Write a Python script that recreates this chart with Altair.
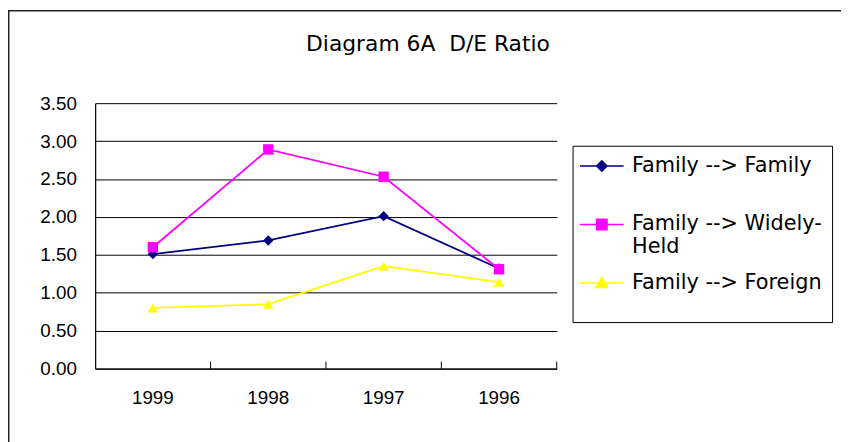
import altair as alt
import pandas as pd

years = ["1999", "1998", "1997", "1996"]
series_names = ["Family --> Family", "Family --> Widely-Held", "Family --> Foreign"]
fam_fam = [1.51, 1.69, 2.01, 1.32]
fam_wide = [1.60, 2.89, 2.53, 1.31]
fam_foreign = [0.80, 0.85, 1.35, 1.14]
colors = ["#000080", "#FF00FF", "#FFFF00"]
shapes = ["diamond", "square", "triangle-up"]
legend_paths = [
    "M-4,0H4M0,-0.95L0.95,0L0,0.95L-0.95,0Z",
    "M-4,0H4M-0.95,-0.95H0.95V0.95H-0.95Z",
    "M-4,0H4M0,-1L1.05,0.85H-1.05Z",
]

rows = []
for name, vals in zip(series_names, [fam_fam, fam_wide, fam_foreign]):
    for y, v in zip(years, vals):
        rows.append({"year": y, "value": v, "series": name})
df = pd.DataFrame(rows)
ticks_df = pd.DataFrame({"year": years})

FONT = "Liberation Sans"
WIDE = "DejaVu Sans"
LABEL_EXPR = "datum.label == 'Family --> Widely-Held' ? ['Family --> Widely-', 'Held'] : datum.label"

x_enc = alt.X(
    "year:N",
    sort=years,
    scale=alt.Scale(type="band", paddingInner=0, paddingOuter=0),
    axis=alt.Axis(
        title=None, labelAngle=0, ticks=False, grid=False, domainColor="black",
        labelFontSize=19, labelFont="Liberation Sans Narrow, Liberation Sans",
        labelColor="black", labelPadding=20, domainWidth=1.2,
    ),
    bandPosition=0.5,
)
y_enc = alt.Y(
    "value:Q",
    scale=alt.Scale(domain=[0, 3.5], nice=False),
    axis=alt.Axis(
        title=None, values=[0, 0.5, 1, 1.5, 2, 2.5, 3, 3.5], format=".2f",
        grid=True, gridColor="black", gridWidth=1, ticks=False,
        domainColor="black", labelFontSize=19, labelFont=FONT,
        labelColor="black", labelPadding=19, domainWidth=1.2,
    ),
)

layers = []

# outer chart frame (decoration)
frame = alt.Chart(ticks_df.head(1)).mark_rect(fill=None, stroke="#222222", strokeWidth=1.5).encode(
    x=alt.value(-87.25), y=alt.value(-93.25), x2=alt.value(760), y2=alt.value(360),
)
layers.append(frame)

for name, c in zip(series_names, colors):
    layers.append(
        alt.Chart(df).transform_filter(alt.datum.series == name)
        .mark_line(strokeWidth=1.8, color=c).encode(x=x_enc, y=y_enc)
    )
for name, c, s in zip(series_names, colors, shapes):
    layers.append(
        alt.Chart(df).transform_filter(alt.datum.series == name)
        .mark_point(filled=True, opacity=1, color=c, shape=s, size=110)
        .encode(x=x_enc, y=y_enc)
    )

xticks = alt.Chart(ticks_df).mark_rule(color="black", strokeWidth=1).encode(
    x=alt.X("year:N", sort=years, bandPosition=1),
    y=alt.value(268), y2=alt.value(261),
)
layers.append(xticks)

leg = alt.Legend(title="\u00a0", titleOrient="bottom", labelExpr=LABEL_EXPR)
lscale = alt.Scale(domain=series_names, range=colors)
legend_layer = alt.Chart(df).transform_filter("false").mark_point(filled=True, opacity=1).encode(
    fill=alt.Fill("series:N", scale=lscale, legend=leg),
    stroke=alt.Stroke("series:N", scale=lscale, legend=leg),
    shape=alt.Shape("series:N", scale=alt.Scale(domain=series_names, range=legend_paths), legend=leg),
)
layers.append(legend_layer)

chart = alt.layer(*layers).properties(
    width=466, height=268,
    title=alt.TitleParams("Diagram 6A\u00a0\u00a0D/E Ratio", fontSize=22, font=WIDE,
                          fontWeight="normal", color="black", offset=0, dy=46, dx=103),
    autosize=alt.AutoSizeParams(type="none"),
    padding={"left": 88, "top": 94, "right": 287, "bottom": 72},
).configure_view(stroke=None).configure_legend(
    orient="none", legendX=482, legendY=43,
    strokeColor="black", strokeWidth=1, fillColor="white",
    padding=10, symbolSize=121, symbolStrokeWidth=1.6, symbolOpacity=1,
    symbolOffset=9, labelOffset=20, labelFontSize=21, labelFont=WIDE,
    labelColor="black", rowPadding=14, labelLimit=400, gridAlign="all",
    titleFontSize=12, titlePadding=8, titleColor="white",
)

chart.save("out.html", embed_options={"renderer": "svg", "actions": False})
